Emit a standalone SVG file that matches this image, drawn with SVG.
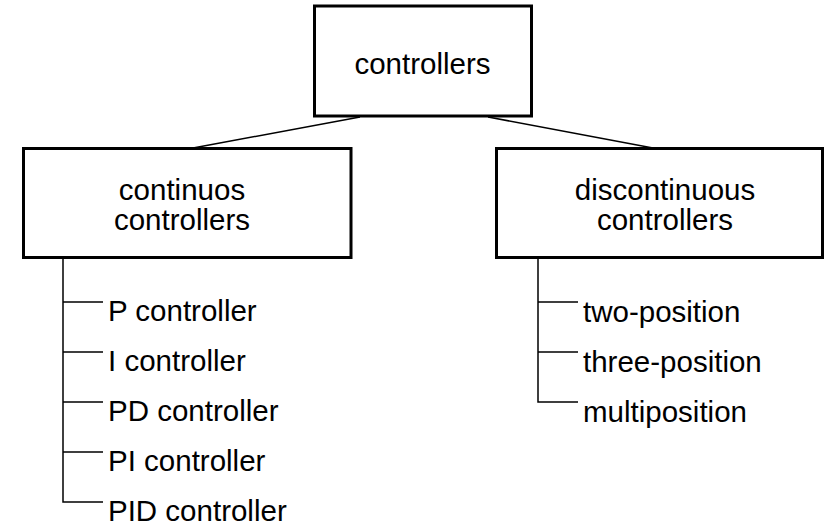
<svg xmlns="http://www.w3.org/2000/svg" width="825" height="529" viewBox="0 0 825 529">
  <style>
    .box { fill: #ffffff; stroke: #000000; stroke-width: 3; }
    .lbl { font-family: "Liberation Sans", Arial, sans-serif; font-size: 29.5px; fill: #000000; }
    .mid { text-anchor: middle; }
    .wire { fill: none; stroke: #000000; stroke-width: 1.5; }
  </style>
  <rect width="825" height="529" fill="#ffffff"/>

  <!-- connectors -->
  <g id="connectors">
    <line class="wire" x1="360" y1="117" x2="193" y2="148"/>
    <line class="wire" x1="488" y1="117" x2="653" y2="148"/>
    <!-- continuous branch -->
    <path class="wire" d="M63 259 V502 H103 M63 302 H103 M63 352 H103 M63 402 H103 M63 452 H103"/>
    <!-- discontinuous branch -->
    <path class="wire" d="M538 259 V402 H578 M538 302 H578 M538 352 H578"/>
  </g>

  <g id="controllers">
    <rect class="box" x="314.5" y="6" width="217" height="110"/>
    <text class="lbl mid" x="422.5" y="74">controllers</text>
  </g>

  <g id="continuous">
    <rect class="box" x="23.5" y="148.5" width="327.5" height="109"/>
    <text class="lbl mid" x="182" y="200">continuos</text>
    <text class="lbl mid" x="182" y="230">controllers</text>
  </g>

  <g id="discontinuous">
    <rect class="box" x="496.5" y="148.5" width="326" height="109"/>
    <text class="lbl mid" x="665" y="200">discontinuous</text>
    <text class="lbl mid" x="665" y="230">controllers</text>
  </g>

  <g id="p-controller"><text class="lbl" x="108" y="321">P controller</text></g>
  <g id="i-controller"><text class="lbl" x="108" y="371">I controller</text></g>
  <g id="pd-controller"><text class="lbl" x="108" y="421">PD controller</text></g>
  <g id="pi-controller"><text class="lbl" x="108" y="471">PI controller</text></g>
  <g id="pid-controller"><text class="lbl" x="108" y="521">PID controller</text></g>

  <g id="two-position"><text class="lbl" x="583" y="322">two-position</text></g>
  <g id="three-position"><text class="lbl" x="583" y="372">three-position</text></g>
  <g id="multiposition"><text class="lbl" x="583" y="422">multiposition</text></g>
</svg>
